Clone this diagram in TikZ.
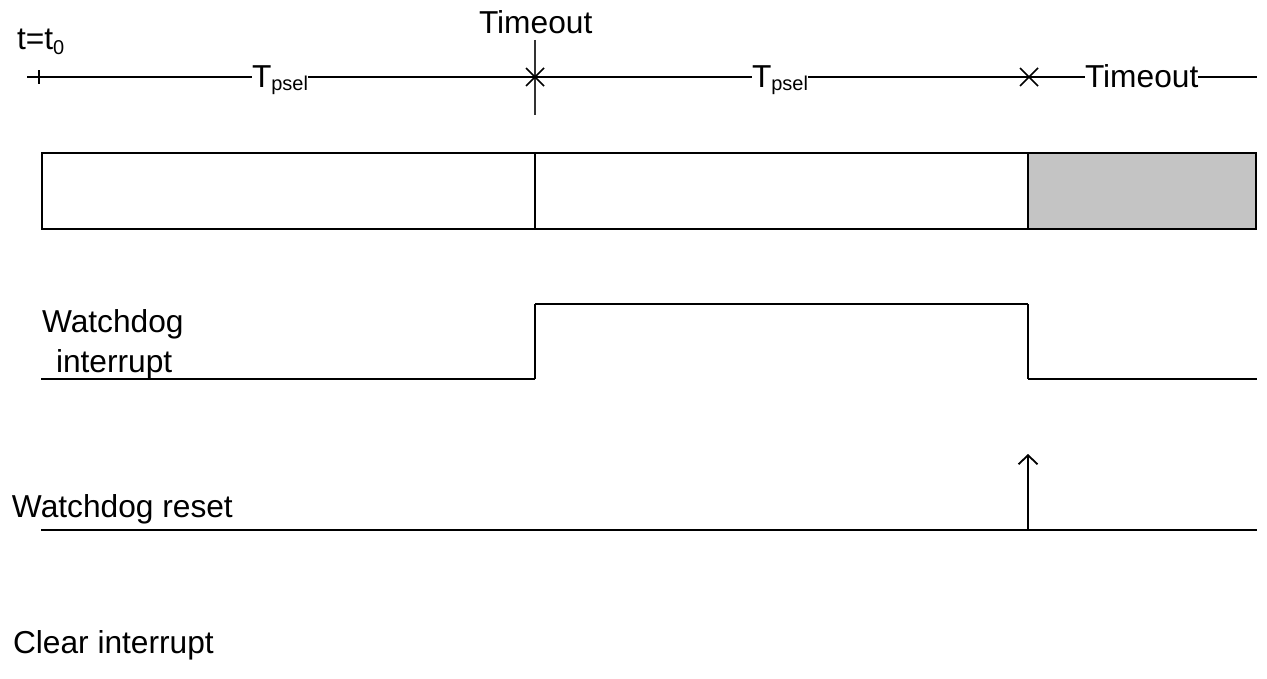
\documentclass[tikz,border=0pt]{standalone}
\usepackage{fontspec}
\setmainfont{Liberation Sans}
\usetikzlibrary{arrows.meta}
\definecolor{cellgray}{RGB}{196,196,196}
\newcommand{\bigf}{\fontsize{31.7}{34}\selectfont}
\newcommand{\subf}{\fontsize{20}{22}\selectfont}
\begin{document}
\begin{tikzpicture}[x=1pt,y=-1pt,
  sig/.style={line width=2.6pt,black},
  edge/.style={line width=1.5pt,black},
  thinl/.style={line width=1.1pt,black!80},
  xmark/.style={line width=1.6pt,black},
  lbl/.style={inner sep=0pt,outer sep=0pt,anchor=base west,font=\bigf},
  boxcell/.style={draw,line width=2.6pt}]
\useasboundingbox (0,0) rectangle (1267,679);

% --- top timeline ---
\node[lbl] (tzero) at (17,50) {t=t\raisebox{-5pt}{\subf 0}};
\node[lbl] (to1) at (479,34) {Timeout};
\node[lbl] (tp1) at (252,88) {T\raisebox{-3pt}{\subf psel}};
\node[lbl] (tp2) at (752,88) {T\raisebox{-3pt}{\subf psel}};
\node[lbl] (to2) at (1085,88) {Timeout};

\coordinate (tl0) at (27,77);
\coordinate (tick) at (39,77);
\coordinate (x1) at (535,77);
\coordinate (x2) at (1029,77);
\coordinate (tlend) at (1257,77);

\draw[sig] (tl0) -- (tp1.west |- tl0);
\draw[sig] (tp1.east |- tl0) -- (x1) -- (tp2.west |- tl0);
\draw[sig] (tp2.east |- tl0) -- (x2) -- (to2.west |- tl0);
\draw[sig] (to2.east |- tl0) -- (tlend);

% tick at t0
\draw[xmark] ([yshift=-7pt]tick) -- ([yshift=7pt]tick);
% timeout marks
\draw[thinl] (535,40) coordinate (v1t) -- (535,115) coordinate (v1b);
\draw[xmark] ([shift={(-9,-9)}]x1) -- ([shift={(9,9)}]x1);
\draw[xmark] ([shift={(-9,9)}]x1) -- ([shift={(9,-9)}]x1);
\draw[xmark] ([shift={(-9,-9)}]x2) -- ([shift={(9,9)}]x2);
\draw[xmark] ([shift={(-9,9)}]x2) -- ([shift={(9,-9)}]x2);

% --- counter bar ---
\coordinate (b0) at (42,153);
\coordinate (b1) at (535,229);
\coordinate (b2) at (1028,153);
\coordinate (b3) at (1256,229);
\fill[cellgray] (b2) rectangle (b3);
\draw[boxcell] (b0) rectangle (b3);
\draw[sig] (b1) -- (b1 |- b0);
\draw[sig] (b2) -- (b2 |- b3);

% --- watchdog interrupt ---
\node[lbl] (wdi1) at (42,332) {Watchdog};
\node[lbl] (wdi2) at (56,372) {interrupt};
\coordinate (wi0) at (41,379);
\coordinate (wi1) at (535,379);
\coordinate (wi2) at (535,304);
\coordinate (wi3) at (1028,304);
\coordinate (wi4) at (1028,379);
\coordinate (wi5) at (1257,379);
\draw[sig] (wi0) -- (wi1);
\draw[edge] (wi1) -- (wi2);
\draw[sig] (wi2) -- (wi3);
\draw[edge] (wi3) -- (wi4);
\draw[sig] (wi4) -- (wi5);

% --- watchdog reset ---
\node[lbl] (wdr) at (12,517) {Watchdog reset};
\coordinate (wr0) at (41,530);
\coordinate (wrp) at (1028,530);
\coordinate (wrt) at (1028,454);
\coordinate (wr1) at (1257,530);
\draw[sig] (wr0) -- (wr1);
\draw[edge,-{Straight Barb[length=9pt,width=19pt,line width=1.8pt]}] (wrp) -- (wrt);

% --- clear interrupt ---
\node[lbl] (clr) at (13,653) {Clear interrupt};
\end{tikzpicture}
\end{document}
